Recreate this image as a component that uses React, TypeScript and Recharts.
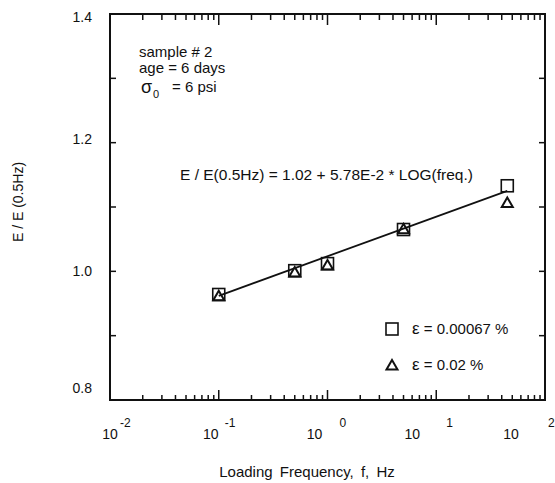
import { ComposedChart, Scatter, Line, XAxis, YAxis, Legend, Customized, ReferenceArea } from 'recharts';

// values
const freqHz = [0.1, 0.5, 1, 5, 45];
const ratioLowStrain = [0.964, 1.001, 1.012, 1.065, 1.133];
const ratioHighStrain = [0.962, 0.999, 1.01, 1.066, 1.107];
const fitFreqHz = [0.1, 45];
const fitRatio = [0.962, 1.125];

const seriesNames = ['ε = 0.00067 %', 'ε = 0.02 %'];

// axis ticks
const decades = [0.01, 0.1, 1, 10, 100];
const decadeExponents = ['-2', '-1', '0', '1', '2'];
const minorSteps = [2, 3, 4, 5, 6, 7, 8, 9];
const yTicks = [0.8, 0.9, 1.0, 1.1, 1.2, 1.3, 1.4];
const yLabeled = [0.8, 1.0, 1.2, 1.4];
const xDomain = [0.01, 100];
const yDomain = [0.8, 1.4];

const INK = '#111';
const FONT = '"Liberation Sans", Arial, Helvetica, sans-serif';

const W = 555;
const H = 483;
const MARGIN = { top: 14, right: 10, bottom: 33, left: 50 };
const Y_AXIS_W = 60;
const X_AXIS_H = 50;
// plot box size, used to mirror the tick marks onto the top and right edges
const PLOT_W = W - MARGIN.left - MARGIN.right - Y_AXIS_W;
const PLOT_H = H - MARGIN.top - MARGIN.bottom - X_AXIS_H;

// small nudges so labels sit where the scanned figure has them
const decadeLabelShift = [0, -8, -13, -24, -34];
const decadeExpShift = [10, 6, 12, 10, 3];
const yLabelNudge: Record<string, number> = { '0.8': -12, '1.0': 0, '1.2': -4, '1.4': 3 };

const xTicks = decades.flatMap((d, i) =>
  i < decades.length - 1 ? [d, ...minorSteps.map((m) => d * m)] : [d]
);

const lowData = freqHz.map((f, i) => ({ f, e: ratioLowStrain[i] }));
const highData = freqHz.map((f, i) => ({ f, e: ratioHighStrain[i] }));
const fitData = fitFreqHz.map((f, i) => ({ f, e: fitRatio[i] }));

const decadeIndex = (v: number) => decades.findIndex((d) => Math.abs(d - v) / d < 1e-6);

function BottomTick({ x, y, payload }: any) {
  const idx = decadeIndex(payload.value);
  const major = idx >= 0;
  const top = y - PLOT_H;
  return (
    <g>
      <line x1={x} y1={y} x2={x} y2={y - (major ? 10 : 5)} stroke={INK} strokeWidth={1.5} />
      <line x1={x} y1={top} x2={x} y2={top + (major ? 11 : 6)} stroke={INK} strokeWidth={1.5} />
      {major && (
        <g fontFamily={FONT} fill={INK}>
          <text x={x + decadeLabelShift[idx]} y={y + 39} fontSize={14} textAnchor="middle">
            10
          </text>
          <text x={x + decadeExpShift[idx]} y={y + 27} fontSize={12} textAnchor="start">
            {decadeExponents[idx]}
          </text>
        </g>
      )}
    </g>
  );
}

function LeftTick({ x, y, payload }: any) {
  const v = payload.value as number;
  const lab = yLabeled.find((l) => Math.abs(l - v) < 1e-6);
  const right = x + PLOT_W;
  return (
    <g>
      <line x1={x} y1={y} x2={x + 6} y2={y} stroke={INK} strokeWidth={1.5} />
      <line x1={right} y1={y} x2={right - 6} y2={y} stroke={INK} strokeWidth={1.5} />
      {lab !== undefined && (
        <text
          x={x - 18}
          y={y + 5 + yLabelNudge[lab.toFixed(1)]}
          fontSize={14}
          fontFamily={FONT}
          fill={INK}
          textAnchor="end"
        >
          {lab.toFixed(1)}
        </text>
      )}
    </g>
  );
}

function SquareMark({ cx, cy }: any) {
  return <rect x={cx - 6} y={cy - 6} width={12} height={12} fill="none" stroke={INK} strokeWidth={1.6} />;
}

function TriangleMark({ cx, cy }: any) {
  return (
    <path
      d={`M${cx} ${cy - 5} L${cx + 5.5} ${cy + 4.5} L${cx - 5.5} ${cy + 4.5} Z`}
      fill="none"
      stroke={INK}
      strokeWidth={2}
    />
  );
}

function LegendBox({ payload }: any) {
  const items = (payload || []).filter((p: any) => seriesNames.includes(p.value));
  return (
    <div style={{ fontFamily: FONT, color: INK }}>
      {items.map((item: any, i: number) => (
        <div key={i} style={{ display: 'flex', alignItems: 'center', height: 18, marginBottom: 18 }}>
          <svg width={16} height={16} style={{ display: 'block' }}>
            {item.value === seriesNames[0] ? (
              <rect x={2} y={2} width={12} height={12} fill="none" stroke={INK} strokeWidth={1.6} />
            ) : (
              <path d="M8 3 L13.5 12.5 L2.5 12.5 Z" fill="none" stroke={INK} strokeWidth={2} />
            )}
          </svg>
          <span style={{ marginLeft: 12, fontSize: 15, whiteSpace: 'nowrap' }}>
            <span style={{ fontSize: 17 }}>{item.value.slice(0, 1)}</span>
            {item.value.slice(1)}
          </span>
        </div>
      ))}
    </div>
  );
}

function Annotations() {
  return (
    <g fontFamily={FONT} fill={INK}>
      <text x={139} y={57} fontSize={15}>sample # 2</text>
      <text x={139} y={73} fontSize={15}>age = 6 days</text>
      <text x={141} y={93} fontSize={18}>σ</text>
      <text x={153} y={98} fontSize={11}>0</text>
      <text x={172} y={92} fontSize={15}>= 6 psi</text>
      <text x={180} y={180} fontSize={15.5}>E / E(0.5Hz) = 1.02 + 5.78E-2 * LOG(freq.)</text>
      <text x={307} y={477} fontSize={15} textAnchor="middle" wordSpacing={3}>
        Loading Frequency, f, Hz
      </text>
      <text x={0} y={0} fontSize={14} textAnchor="middle" transform="translate(23 202) rotate(-90)">
        E / E (0.5Hz)
      </text>
    </g>
  );
}

export default function App() {
  return (
    <div style={{ position: 'absolute', left: 0, top: 0, width: W, height: H, background: '#fff' }}>
      <ComposedChart width={W} height={H} margin={MARGIN}>
        <XAxis
          dataKey="f"
          type="number"
          scale="log"
          domain={xDomain}
          allowDataOverflow
          ticks={xTicks}
          interval={0}
          height={X_AXIS_H}
          tickSize={0}
          tickMargin={0}
          tickLine={false}
          tick={<BottomTick />}
          stroke={INK}
          strokeWidth={2}
        />
        <YAxis
          type="number"
          domain={yDomain}
          allowDataOverflow
          ticks={yTicks}
          interval={0}
          width={Y_AXIS_W}
          tickSize={0}
          tickMargin={0}
          tickLine={false}
          tick={<LeftTick />}
          stroke={INK}
          strokeWidth={2}
        />
        {/* plot frame */}
        <ReferenceArea
          x1={xDomain[0]}
          x2={xDomain[1]}
          y1={yDomain[0]}
          y2={yDomain[1]}
          fill="none"
          fillOpacity={0}
          stroke={INK}
          strokeWidth={2}
          strokeOpacity={1}
          ifOverflow="visible"
        />
        <Line
          data={fitData}
          dataKey="e"
          type="linear"
          stroke={INK}
          strokeWidth={1.8}
          dot={false}
          legendType="none"
          isAnimationActive={false}
        />
        <Scatter
          name={seriesNames[0]}
          data={lowData}
          dataKey="e"
          shape={<SquareMark />}
          isAnimationActive={false}
        />
        <Scatter
          name={seriesNames[1]}
          data={highData}
          dataKey="e"
          shape={<TriangleMark />}
          isAnimationActive={false}
        />
        <Legend
          layout="vertical"
          align="center"
          verticalAlign="middle"
          content={<LegendBox />}
          wrapperStyle={{ left: 384, top: 320, width: 170 }}
        />
        <Customized component={Annotations} />
      </ComposedChart>
    </div>
  );
}
